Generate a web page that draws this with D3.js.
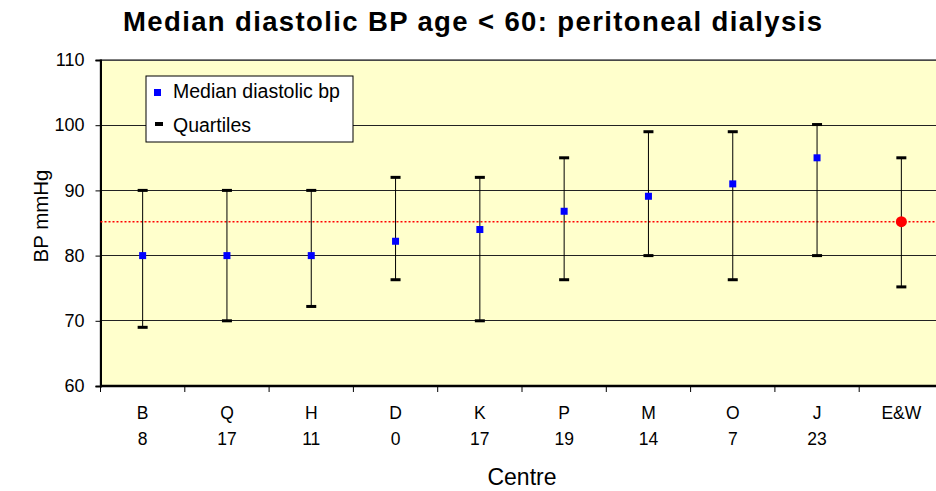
<!DOCTYPE html>
<html><head><meta charset="utf-8">
<script src="https://cdn.jsdelivr.net/npm/d3@7"></script>
<style>body{margin:0;background:#fff}svg{display:block;font-family:"Liberation Sans",Arial,sans-serif}</style>
</head><body><svg id="c" width="936" height="491"></svg>
<script>
const centres = ["B","Q","H","D","K","P","M","O","J","E&W"];
const counts = ["8","17","11","0","17","19","14","7","23",""];
const medians = [80,80,80,82.2,84,86.8,89.1,91,95,85.2];
const upperQ = [90,90,90,92,92,95,99,99,100.1,95];
const lowerQ = [69,70,72.2,76.3,70,76.3,80,76.3,80,75.2];
const overallMedian = 85.2;
const yTicks = [60,70,80,90,100,110];

const svg = d3.select("#c");
const L=100.5, R=943.5, T=60, B=386;
const x = d3.scaleBand().domain(centres).range([L,R]);
const y = d3.scaleLinear().domain([60,110]).range([B,T]);

svg.append("rect").attr("x",L).attr("y",T).attr("width",R-L).attr("height",B-T).attr("fill","#FFFFCC");
// gridlines
svg.append("g").selectAll("line").data(yTicks.filter(d=>d>60)).join("line")
  .attr("x1",L).attr("x2",R).attr("y1",d=>y(d)).attr("y2",d=>y(d))
  .attr("stroke","#222").attr("stroke-width",1).attr("shape-rendering","crispEdges");
// plot frame
svg.append("rect").attr("x",L).attr("y",T).attr("width",R-L).attr("height",B-T)
  .attr("fill","none").attr("stroke","#555").attr("stroke-width",1.5);

// y axis
const ya = svg.append("g").attr("transform",`translate(${L},0)`)
  .call(d3.axisLeft(y).tickValues(yTicks).tickSize(5).tickPadding(11));
ya.select(".domain").attr("stroke","#000").attr("stroke-width",2);
ya.selectAll("text").attr("font-size",18).attr("fill","#000").attr("font-family","Liberation Sans, Arial, sans-serif");

// x axis line + boundary ticks
svg.append("line").attr("x1",L).attr("x2",R).attr("y1",B).attr("y2",B).attr("stroke","#000").attr("stroke-width",2.5);
svg.append("g").selectAll("line").data(centres).join("line")
  .attr("x1",d=>x(d)).attr("x2",d=>x(d)).attr("y1",B).attr("y2",B+6)
  .attr("stroke","#000").attr("stroke-width",1);
svg.append("g").selectAll("text").data(centres).join("text")
  .attr("x",d=>x(d)+x.bandwidth()/2).attr("y",419).attr("text-anchor","middle")
  .attr("font-size",17.5).text(d=>d);
svg.append("g").selectAll("text").data(counts).join("text")
  .attr("x",(d,i)=>x(centres[i])+x.bandwidth()/2).attr("y",445).attr("text-anchor","middle")
  .attr("font-size",17.5).text(d=>d);

// reference line
svg.append("line").attr("x1",L).attr("x2",R).attr("y1",y(overallMedian)).attr("y2",y(overallMedian))
  .attr("stroke","#FF0000").attr("stroke-width",1.5).attr("stroke-dasharray","2,2");

// error bars
const g = svg.append("g");
centres.forEach((c,i)=>{
  const cx = x(c)+x.bandwidth()/2;
  g.append("line").attr("x1",cx).attr("x2",cx).attr("y1",y(upperQ[i])).attr("y2",y(lowerQ[i]))
    .attr("stroke","#000").attr("stroke-width",1);
  [upperQ[i],lowerQ[i]].forEach(v=>{
    g.append("rect").attr("x",cx-5).attr("y",y(v)-1.5).attr("width",10).attr("height",3).attr("fill","#000");
  });
  if (c==="E&W") {
    g.append("circle").attr("cx",cx).attr("cy",y(medians[i])).attr("r",5.5).attr("fill","#FF0000");
  } else {
    g.append("rect").attr("x",cx-3.5).attr("y",y(medians[i])-3.5).attr("width",7).attr("height",7).attr("fill","#0000FF");
  }
});

// legend
const lg = svg.append("g");
lg.append("rect").attr("x",146).attr("y",76).attr("width",207).attr("height",66).attr("fill","#fff").attr("stroke","#000").attr("stroke-width",1);
lg.append("rect").attr("x",154).attr("y",89).attr("width",7).attr("height",7).attr("fill","#0000FF");
lg.append("text").attr("x",173).attr("y",98).attr("font-size",19.5).text("Median diastolic bp");
lg.append("rect").attr("x",155).attr("y",122).attr("width",8).attr("height",4).attr("fill","#000");
lg.append("text").attr("x",173).attr("y",132).attr("font-size",19.5).text("Quartiles");

// titles
svg.append("text").attr("x",123).attr("y",31).attr("font-size",27.5).attr("font-weight","bold")
  .attr("textLength",699).attr("lengthAdjust","spacing")
  .text("Median diastolic BP age < 60: peritoneal dialysis");
svg.append("text").attr("x",522).attr("y",485).attr("text-anchor","middle").attr("font-size",23).text("Centre");
svg.append("text").attr("transform","translate(48,216) rotate(-90)").attr("text-anchor","middle").attr("font-size",20.5).text("BP mmHg");
</script></body></html>
